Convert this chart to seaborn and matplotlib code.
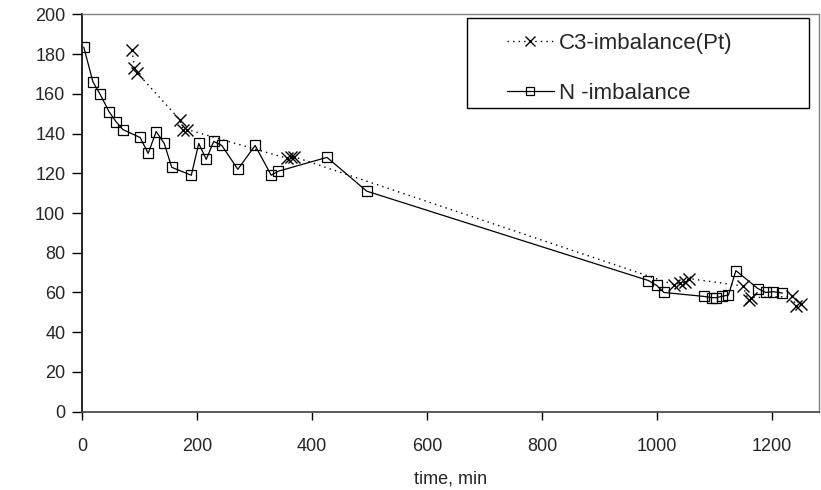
import matplotlib
matplotlib.use("Agg")
import matplotlib.pyplot as plt
from matplotlib.patches import Rectangle
import seaborn as sns

# C3-imbalance(Pt) series
c3_time = [87, 91, 96, 170, 176, 183, 357, 364, 369,
           1029, 1039, 1048, 1055, 1149, 1159, 1164, 1235, 1242, 1250]
c3_value = [182, 173, 170.5, 147, 142, 142, 127.5, 128, 128.3,
            64, 64.6, 65.4, 67, 63.3, 56, 57.4, 58, 53, 54]

# N-imbalance series
n_time = [3, 19, 31, 47, 59, 71, 101, 115, 129, 143, 156, 190, 203, 216, 229,
          243, 271, 301, 329, 341, 426, 495,
          985, 999, 1012, 1082, 1095, 1103, 1112, 1124, 1137, 1175, 1189, 1202, 1218]
n_value = [183.5, 166, 160, 151, 146, 142, 138, 130, 141, 135, 123, 119, 135, 127, 136,
           134, 122, 134, 119, 121, 128, 111,
           66, 63.6, 60, 58, 57.4, 57.4, 58, 58.7, 71, 62, 60, 60.4, 59.7]

x_ticks = [0, 200, 400, 600, 800, 1000, 1200]
y_ticks = list(range(0, 201, 20))

sns.set_style("ticks")
plt.rcParams["font.family"] = ["Liberation Sans", "DejaVu Sans"]

fig = plt.figure(figsize=(8.21, 4.90), dpi=100)
ax = fig.add_axes([0.0999, 0.1598, 0.8973, 0.811])

sns.lineplot(x=c3_time, y=c3_value, ax=ax, color="black", linestyle=(0, (1, 3)),
             linewidth=1.0, marker="x", markersize=8.5, markeredgewidth=1.0,
             markeredgecolor="black",
             estimator=None, sort=False, label="C3-imbalance(Pt)")
sns.lineplot(x=n_time, y=n_value, ax=ax, color="black", linestyle="-",
             linewidth=0.9, marker="s", markersize=7, markerfacecolor="none",
             markeredgecolor="black", markeredgewidth=0.9,
             estimator=None, sort=False, label="N -imbalance")

ax.set_xlim(0, 1281)
ax.set_ylim(0, 200)
ax.set_xticks(x_ticks)
ax.set_yticks(y_ticks)
ax.tick_params(axis="both", labelsize=13, direction="out", color="black", width=1)
ax.tick_params(axis="y", length=7, pad=5)
ax.tick_params(axis="x", length=6, pad=13)
ax.set_xlabel("time, min", fontsize=13, labelpad=11)
ax.set_ylabel("")

for side in ["top", "right"]:
    ax.spines[side].set_visible(True)
    ax.spines[side].set_color("#808080")
    ax.spines[side].set_linewidth(1)
ax.spines["left"].set_color("black")
ax.spines["bottom"].set_color("#404040")
ax.spines["left"].set_linewidth(1.2)
ax.spines["bottom"].set_linewidth(1.2)

# legend box drawn as a plain rectangle, entries placed inside it
ax.add_patch(Rectangle((467 / 821, 1 - 108 / 490), 342 / 821, 90 / 490,
                       transform=fig.transFigure, facecolor="white",
                       edgecolor="black", linewidth=1.0, zorder=4, clip_on=False))
leg = ax.legend(loc="center left", bbox_to_anchor=(507 / 821, 1 - 68.5 / 490),
                bbox_transform=fig.transFigure, borderaxespad=0, borderpad=0,
                fontsize=16, frameon=False, markerscale=0.85,
                handlelength=2.1, handletextpad=0.25, labelspacing=1.3)
leg.set_zorder(5)

fig.savefig("out.png", dpi=100)
